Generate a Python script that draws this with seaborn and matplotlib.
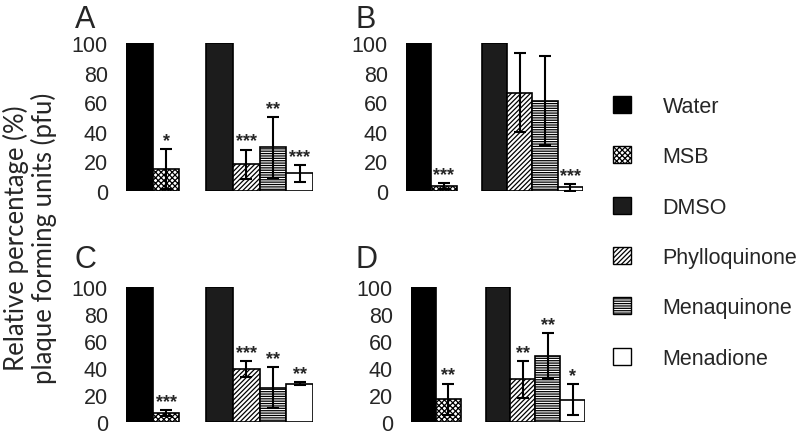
import numpy as np
import pandas as pd
import matplotlib
matplotlib.use("Agg")
import matplotlib.pyplot as plt
from matplotlib.patches import Patch
import seaborn as sns

sns.set_style("white")
plt.rcParams["font.family"] = ["Liberation Sans", "DejaVu Sans"]
plt.rcParams["hatch.linewidth"] = 0.9

# ---- data ----
categories = ["Water", "MSB", "DMSO", "Phylloquinone", "Menaquinone", "Menadione"]
order = ["Water", "MSB", " ", "DMSO", "Phylloquinone", "Menaquinone", "Menadione"]

vals_A = [100, 15, 100, 18, 29.5, 12]
errs_A = [np.nan, 13.5, np.nan, 10, 20.5, 5.7]
stars_A = ["", "*", "", "***", "**", "***"]

vals_B = [100, 3.2, 100, 66.5, 61, 2.5]
errs_B = [np.nan, 2.0, np.nan, 26.5, 30, 2.2]
stars_B = ["", "***", "", "", "", "***"]

vals_C = [100, 6.5, 100, 39, 25.5, 28.4]
errs_C = [np.nan, 2.1, np.nan, 6, 15.3, 1.2]
stars_C = ["", "***", "", "***", "**", "**"]

vals_D = [100, 17, 100, 31.5, 49, 16.5]
errs_D = [np.nan, 11.5, np.nan, 13.5, 17, 11.3]
stars_D = ["", "**", "", "**", "**", "*"]

yticks = [0, 20, 40, 60, 80, 100]

colors = ["#000000", "#ffffff", "#1c1c1c", "#ffffff", "#ffffff", "#ffffff"]
hatches = [None, "xxxxxx", None, "///////", "-------", None]

W, H = 800, 435
fig = plt.figure(figsize=(W / 100, H / 100), dpi=100)


def px_axes(left, right, top, bottom):
    return fig.add_axes([left / W, 1 - bottom / H, (right - left) / W, (bottom - top) / H])


def panel(ax, vals, errs, stars, letter):
    df = pd.DataFrame({"cat": categories, "val": vals})
    sns.barplot(data=df, x="cat", y="val", hue="cat", order=order,
                hue_order=categories, palette=colors, dodge=False,
                width=1.0, errorbar=None, legend=False, ax=ax,
                edgecolor="black", linewidth=1.2)
    for cont, h in zip(ax.containers, hatches):
        for bar in cont:
            if h:
                bar.set_hatch(h)
            bar.set_edgecolor("black")
    xs = [order.index(c) for c in categories]
    ax.errorbar(xs, vals, yerr=errs, fmt="none", ecolor="black",
                elinewidth=1.5, capsize=4, capthick=1.5, zorder=5)
    for x, v, e, s in zip(xs, vals, errs, stars):
        if s:
            top = v + (0 if np.isnan(e) else e)
            ax.text(x, top, s, ha="center", va="bottom", fontsize=13,
                    fontweight="bold", clip_on=False)
    ax.set_xlim(-0.5, 6.5)
    ax.set_ylim(0, 100)
    ax.set_yticks(yticks)
    ax.set_yticklabels([str(t) for t in yticks], fontsize=15.5)
    ax.set_xticks([])
    ax.set_xlabel("")
    ax.set_ylabel("")
    ax.tick_params(axis="y", length=0, pad=13)
    for sp in ax.spines.values():
        sp.set_visible(False)
    ax.set_facecolor("none")


axA = px_axes(126, 313, 44, 192)
axB = px_axes(406, 583, 44, 192)
axC = px_axes(126, 313, 288, 423)
axD = px_axes(411, 585, 288, 423)
panel(axA, vals_A, errs_A, stars_A, "A")
panel(axB, vals_B, errs_B, stars_B, "B")
panel(axC, vals_C, errs_C, stars_C, "C")
panel(axD, vals_D, errs_D, stars_D, "D")

for letter, x, y in [("A", 75, 28), ("B", 355, 28), ("C", 75, 268), ("D", 356, 268)]:
    fig.text(x / W, 1 - y / H, letter, fontsize=22, ha="left", va="baseline")

fig.text(30 / W, 1 - 238 / H, "Relative percentage (%)\nplaque forming units (pfu)",
         rotation=90, ha="center", va="center", multialignment="center",
         fontsize=18.5, family=["Lato", "DejaVu Sans"], linespacing=1.1)

handles = [Patch(facecolor=c, edgecolor="black", hatch=h, linewidth=1.0)
           for c, h in zip(colors, hatches)]
fig.legend(handles, categories, loc="upper left",
           bbox_to_anchor=(613 / W, 1 - 97 / H), frameon=False,
           fontsize=15.5, handlelength=0.85, handleheight=0.85,
           handletextpad=1.45, labelspacing=1.36, borderpad=0, borderaxespad=0)

fig.savefig("out.png", dpi=100)
